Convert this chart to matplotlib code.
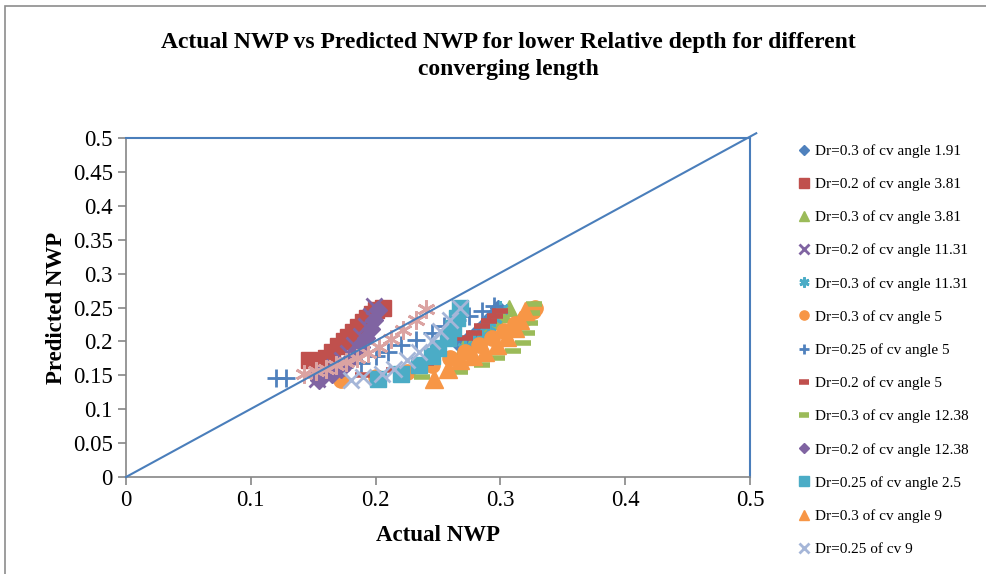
import matplotlib.pyplot as plt
from matplotlib.patches import Rectangle

plt.rcParams['font.family'] = ['Liberation Serif', 'DejaVu Serif']

# series: label, x (actual NWP), y (predicted NWP)
labels = ('Dr=0.3 of cv angle 1.91', 'Dr=0.2 of cv angle 3.81', 'Dr=0.3 of cv angle 3.81',
          'Dr=0.2 of cv angle 11.31', 'Dr=0.3 of cv angle 11.31', 'Dr=0.3 of cv angle 5',
          'Dr=0.25 of cv angle 5', 'Dr=0.2 of cv angle 5', 'Dr=0.3 of cv angle 12.38',
          'Dr=0.2 of cv angle 12.38', 'Dr=0.25 of cv angle 2.5', 'Dr=0.3 of cv angle 9',
          'Dr=0.25 of cv 9', '_extra')

xs = [
    [0.268, 0.275, 0.282, 0.288, 0.293, 0.298],
    [0.147, 0.160, 0.165, 0.170, 0.175, 0.178, 0.182, 0.186, 0.190, 0.193, 0.197, 0.200, 0.206],
    [0.270, 0.278, 0.285, 0.291, 0.297, 0.302, 0.307],
    [0.153, 0.160, 0.167, 0.173, 0.178, 0.183, 0.188, 0.192, 0.196, 0.199],
    [0.272, 0.279, 0.285, 0.290, 0.295, 0.300],
    [0.172, 0.200, 0.225, 0.245, 0.260, 0.272, 0.283, 0.293, 0.303, 0.312, 0.320, 0.326, 0.328],
    [0.120, 0.128, 0.175, 0.188, 0.200, 0.210, 0.220, 0.232, 0.245, 0.255, 0.265, 0.275, 0.285, 0.295],
    [0.190, 0.215, 0.240, 0.272, 0.279, 0.285, 0.291, 0.296, 0.300],
    [0.237, 0.268, 0.285, 0.297, 0.310, 0.318, 0.321, 0.324, 0.325, 0.327],
    [0.155, 0.165, 0.172, 0.178, 0.183, 0.188, 0.192, 0.196, 0.199, 0.202],
    [0.202, 0.220, 0.235, 0.245, 0.250, 0.258, 0.262, 0.265, 0.268],
    [0.247, 0.258, 0.268, 0.278, 0.288, 0.297, 0.305, 0.312, 0.316, 0.320],
    [0.180, 0.190, 0.205, 0.215, 0.225, 0.235, 0.245, 0.252, 0.260, 0.268],
    [0.143, 0.152, 0.160, 0.168, 0.176, 0.185, 0.194, 0.203, 0.212, 0.222, 0.232, 0.240],
]
ys = [
    [0.195, 0.205, 0.215, 0.225, 0.237, 0.250],
    [0.172, 0.176, 0.185, 0.193, 0.200, 0.207, 0.214, 0.221, 0.228, 0.235, 0.240, 0.247, 0.250],
    [0.190, 0.200, 0.210, 0.220, 0.230, 0.240, 0.250],
    [0.145, 0.152, 0.162, 0.172, 0.183, 0.195, 0.208, 0.222, 0.237, 0.252],
    [0.190, 0.200, 0.210, 0.222, 0.235, 0.248],
    [0.143, 0.147, 0.155, 0.165, 0.175, 0.185, 0.195, 0.205, 0.215, 0.225, 0.235, 0.245, 0.250],
    [0.146, 0.146, 0.162, 0.168, 0.178, 0.185, 0.195, 0.202, 0.212, 0.222, 0.232, 0.238, 0.245, 0.252],
    [0.150, 0.158, 0.168, 0.205, 0.213, 0.222, 0.230, 0.238, 0.245],
    [0.147, 0.155, 0.165, 0.175, 0.186, 0.198, 0.212, 0.227, 0.242, 0.255],
    [0.143, 0.152, 0.160, 0.170, 0.180, 0.192, 0.205, 0.218, 0.232, 0.247],
    [0.145, 0.152, 0.165, 0.178, 0.190, 0.205, 0.220, 0.235, 0.250],
    [0.145, 0.160, 0.172, 0.178, 0.185, 0.195, 0.207, 0.220, 0.232, 0.245],
    [0.143, 0.147, 0.152, 0.160, 0.172, 0.185, 0.200, 0.215, 0.232, 0.250],
    [0.152, 0.156, 0.160, 0.165, 0.170, 0.176, 0.183, 0.192, 0.203, 0.217, 0.232, 0.248],
]

# marker styles (Excel-like)
styles = [
    dict(marker='D', color='#4F81BD', ms=8),
    dict(marker='s', color='#C0504D', ms=11),
    dict(marker='^', color='#9BBB59', ms=12),
    dict(marker='x', color='#8064A2', ms=11, mew=2),
    dict(marker=(6, 2, 0), color='#4BACC6', ms=12, mew=2),
    dict(marker='o', color='#F79646', ms=11),
    dict(marker='+', color='#4F81BD', ms=13, mew=2),
    dict(marker='_', color='#C0504D', ms=11, mew=4),
    dict(marker='_', color='#9BBB59', ms=11, mew=4),
    dict(marker='D', color='#8064A2', ms=9),
    dict(marker='s', color='#4BACC6', ms=11),
    dict(marker='^', color='#F79646', ms=13),
    dict(marker='x', color='#A5B6D8', ms=12, mew=2),
    dict(marker=(6, 2, 0), color='#DBA3A2', ms=13, mew=2),
]

fig = plt.figure(figsize=(9.87, 5.74), dpi=100)
ax = fig.add_axes([126 / 987, 1 - 477 / 574, 624 / 987, 339 / 574])

for lab, x, y, st in zip(labels, xs, ys, styles):
    ax.plot(x, y, linestyle='none', label=lab, marker=st['marker'], color=st['color'],
            markersize=st['ms'], markeredgewidth=st.get('mew', 1))

# 1:1 reference line
ax.plot([0, 0.505], [0, 0.507], color='#4A7EBB', lw=1.5, clip_on=False, zorder=5)

ax.set_xlim(0, 0.5)
ax.set_ylim(0, 0.5)
ax.set_xticks([0, 0.1, 0.2, 0.3, 0.4, 0.5])
ax.set_xticklabels(['0', '0.1', '0.2', '0.3', '0.4', '0.5'])
ax.set_yticks([i * 0.05 for i in range(11)])
ax.set_yticklabels(['0', '0.05', '0.1', '0.15', '0.2', '0.25', '0.3', '0.35', '0.4', '0.45', '0.5'])
ax.tick_params(labelsize=16.5, color='#868686', length=6, width=1.2)
for s in ('left', 'bottom'):
    ax.spines[s].set_color('#868686')
    ax.spines[s].set_linewidth(1.2)
for s in ('top', 'right'):
    ax.spines[s].set_color('#4A7EBB')
    ax.spines[s].set_linewidth(1.5)

ax.set_xlabel('Actual NWP', fontsize=16.5, fontweight='bold', labelpad=10)
ax.set_ylabel('Predicted NWP', fontsize=16.5, fontweight='bold', labelpad=4)

fig.text(0.515, 0.902, 'Actual NWP vs Predicted NWP for lower Relative depth for different\nconverging length',
         ha='center', va='center', fontsize=17, fontweight='bold', linespacing=1.4)

fig.legend(loc='upper left', bbox_to_anchor=(792 / 987, 1 - 138 / 574), frameon=False,
           fontsize=11, markerscale=0.6, handlelength=0.8, handletextpad=0.3,
           labelspacing=1.27, borderaxespad=0)

# outer chart border
fig.patches.append(Rectangle((5 / 987, -0.02), 1.0, 1 - 6 / 574 + 0.02, transform=fig.transFigure,
                             fill=False, edgecolor='#8C8C8C', lw=1.2))

fig.savefig('out.png', dpi=100)
